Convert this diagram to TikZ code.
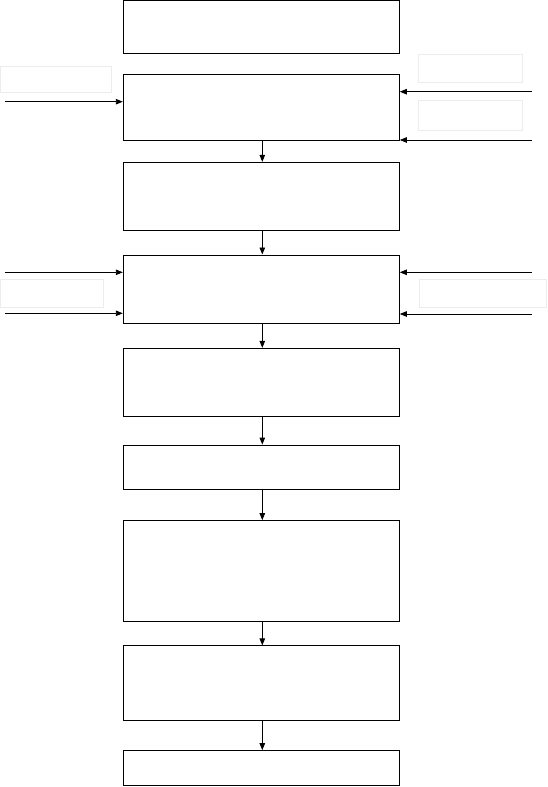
\documentclass[tikz,border=0pt]{standalone}
\usepackage{tikz}
\usetikzlibrary{arrows.meta,positioning}
\definecolor{frameBlack}{HTML}{000000}
\definecolor{faintGray}{HTML}{ECECEC}
\tikzset{
  stage/.style={draw=frameBlack,line width=1pt,inner sep=0pt,minimum width=276pt},
  tag/.style={draw=faintGray,line width=0.8pt,inner sep=0pt},
  flow/.style={-{Triangle[length=7pt,width=5.5pt]},line width=0.9pt,frameBlack}
}
\begin{document}
\begin{tikzpicture}[x=1pt,y=-1pt]
\useasboundingbox (0,0) rectangle (547,787);
% main column
\node[stage,minimum height=53pt]    (s1) at (261.3,27)    {};
\node[stage,minimum height=66pt]    (s2) at (261.3,107.6) {};
\node[stage,minimum height=67.7pt]  (s3) at (261.3,196.2) {};
\node[stage,minimum height=68pt]    (s4) at (261.3,289)   {};
\node[stage,minimum height=67.7pt]  (s5) at (261.3,382.2) {};
\node[stage,minimum height=44.3pt]  (s6) at (261.3,467.2) {};
\node[stage,minimum height=101.3pt] (s7) at (261.3,571.3) {};
\node[stage,minimum height=74.7pt]  (s8) at (261.3,683.3) {};
\node[stage,minimum height=35.3pt]  (s9) at (261.3,768.3) {};
\foreach \a/\b in {s2/s3,s3/s4,s4/s5,s5/s6,s6/s7,s7/s8,s8/s9}
  \draw[flow] ([xshift=1pt]\a.south) -- ([xshift=1pt]\b.north);
% side tags
\node[tag,minimum width=111pt,minimum height=26.5pt] (tagA) at (56,79.2)   {};
\node[tag,minimum width=104pt,minimum height=27.5pt] (tagB) at (470.4,68.2) {};
\node[tag,minimum width=104pt,minimum height=30pt]   (tagC) at (470.4,115.7) {};
\node[tag,minimum width=103pt,minimum height=28.5pt] (tagD) at (51.9,293.2) {};
\node[tag,minimum width=127pt,minimum height=28pt]   (tagE) at (482.9,293)  {};
% side inputs
\coordinate (inA) at (5,101.7);   \coordinate (inB) at (531.7,91.7);  \coordinate (inC) at (531.7,140);
\coordinate (inD) at (5,272.3);   \coordinate (inE) at (5,313.3);
\coordinate (inF) at (531.7,272.3); \coordinate (inG) at (531.7,314);
\draw[flow] (inA) -- (inA -| s2.west);
\draw[flow] (inB) -- (inB -| s2.east); \draw[flow] (inC) -- (inC -| s2.east);
\draw[flow] (inD) -- (inD -| s4.west); \draw[flow] (inE) -- (inE -| s4.west);
\draw[flow] (inF) -- (inF -| s4.east); \draw[flow] (inG) -- (inG -| s4.east);
\end{tikzpicture}
\end{document}
